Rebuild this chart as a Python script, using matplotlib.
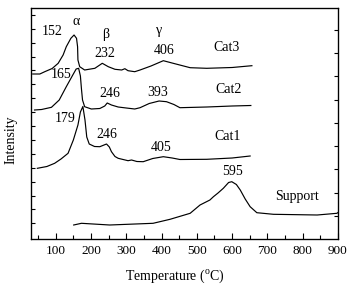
"""TPR-style profiles for Cat1-Cat3 and the bare support."""

import matplotlib
matplotlib.use("Agg")
import matplotlib.pyplot as plt
import numpy as np

plt.rcParams["font.family"] = ["Liberation Serif", "DejaVu Serif"]
plt.rcParams["mathtext.fontset"] = "custom"
plt.rcParams["mathtext.rm"] = "Liberation Serif"

# temperature (C) and intensity (arbitrary units, stacked offsets kept)
cat3_t = [35, 55, 69, 90, 107, 121, 130, 143, 152, 159, 162, 163, 168, 182, 211, 232, 249, 268, 287, 296,
          305, 324, 339, 370, 405, 433, 481, 528, 600, 656]
cat3_i = [165.0, 165.0, 167.3, 170.5, 175.7, 184.0, 192.3, 200.7, 204.0, 200.7, 192.3, 179.0, 172.3, 169.0,
          170.7, 175.7, 172.3, 169.7, 169.0, 170.3, 168.3, 167.3, 169.0, 173.0, 178.3, 175.7, 171.3, 170.7,
          171.5, 173.3]

cat2_t = [40, 60, 88, 110, 130, 150, 158, 165, 170, 173, 176, 182, 201, 225, 239, 246, 258, 277, 300, 324,
          339, 365, 393, 414, 435, 452, 528, 600, 653]
cat2_i = [129.0, 129.5, 131.7, 139.0, 152.3, 165.0, 170.0, 170.7, 163.0, 150.0, 139.0, 132.3, 130.0, 130.5,
          133.0, 136.0, 134.0, 132.0, 131.0, 130.0, 131.3, 135.5, 138.0, 137.3, 134.5, 131.3, 132.0, 133.0,
          133.5]

cat1_t = [48, 75, 97, 115, 135, 150, 163, 170, 177, 183, 188, 195, 210, 225, 244, 252, 258, 268, 277, 305,
          315, 330, 348, 375, 405, 430, 452, 528, 600, 651]
cat1_i = [70.7, 72.5, 75.7, 80.0, 85.7, 99.0, 114.0, 127.0, 132.5, 119.0, 102.0, 95.0, 92.5, 92.3, 95.0,
          92.0, 87.3, 82.5, 80.7, 78.3, 79.0, 77.5, 77.3, 80.5, 82.3, 81.0, 79.5, 79.7, 81.0, 83.0]

support_t = [151, 173, 253, 376, 424, 481, 509, 537, 547, 560, 575, 590, 599, 612, 623, 637, 651, 670, 717,
             841, 897, 900]
support_i = [14.0, 15.7, 14.0, 15.7, 19.7, 25.7, 34.0, 39.0, 42.3, 46.0, 50.7, 56.5, 57.3, 54.5, 49.0, 40.0,
             32.3, 26.3, 24.7, 24.0, 25.7, 26.5]

# peak labels: text, temperature, intensity
labels = [
    ("152", 91, 207.3), ("\u03b1", 159, 217.3), ("\u03b2", 242, 204.7), ("232", 239, 185.7),
    ("\u03b3", 393, 208.3), ("406", 408, 188.3), ("Cat3", 585, 191.3),
    ("165", 116, 165.0), ("246", 253, 145.7), ("393", 388, 146.7), ("Cat2", 589, 149.7),
    ("179", 126, 120.7), ("246", 246, 104.7), ("405", 400, 91.7), ("Cat1", 587, 103.0),
    ("595", 601, 67.3), ("Support", 784, 42.3),
]

fig = plt.figure(figsize=(3.52, 2.84), dpi=100)
ax = fig.add_axes([31 / 352, 45 / 284, 307 / 352, 231 / 284])

for t, i in [(cat3_t, cat3_i), (cat2_t, cat2_i), (cat1_t, cat1_i), (support_t, support_i)]:
    ax.plot(t, i, color="black", lw=0.85)

for text, t, i in labels:
    ax.text(t, i, text, fontsize=10, ha="center", va="center")

ax.set_xlim(30, 900)
ax.set_ylim(0, 231)
ax.set_xticks(np.arange(100, 901, 100))
ax.set_xticks(np.arange(50, 900, 100), minor=True)
ax.set_yticks(np.arange(15.7, 231, 13.9))
ax.set_yticklabels([])
ax.tick_params(axis="both", which="both", direction="in", width=0.8)
ax.tick_params(axis="x", which="major", length=4, pad=4, labelsize=9.5)
ax.tick_params(axis="x", which="minor", length=3)
ax.tick_params(axis="y", length=3)
for s in ax.spines.values():
    s.set_linewidth(0.9)

right = ax.twinx()
right.set_ylim(0, 231)
right.set_yticks(np.arange(23.0, 231, 23.3))
right.set_yticklabels([])
right.tick_params(direction="in", length=3, width=0.8)

ax.set_xlabel(r"Temperature ($^\mathregular{o}$C)", fontsize=10)
ax.xaxis.set_label_coords(0.469, -0.125)
ax.set_ylabel("Intensity", fontsize=10)
ax.yaxis.set_label_coords(-0.045, 0.43)

fig.savefig("out.png", dpi=100)
